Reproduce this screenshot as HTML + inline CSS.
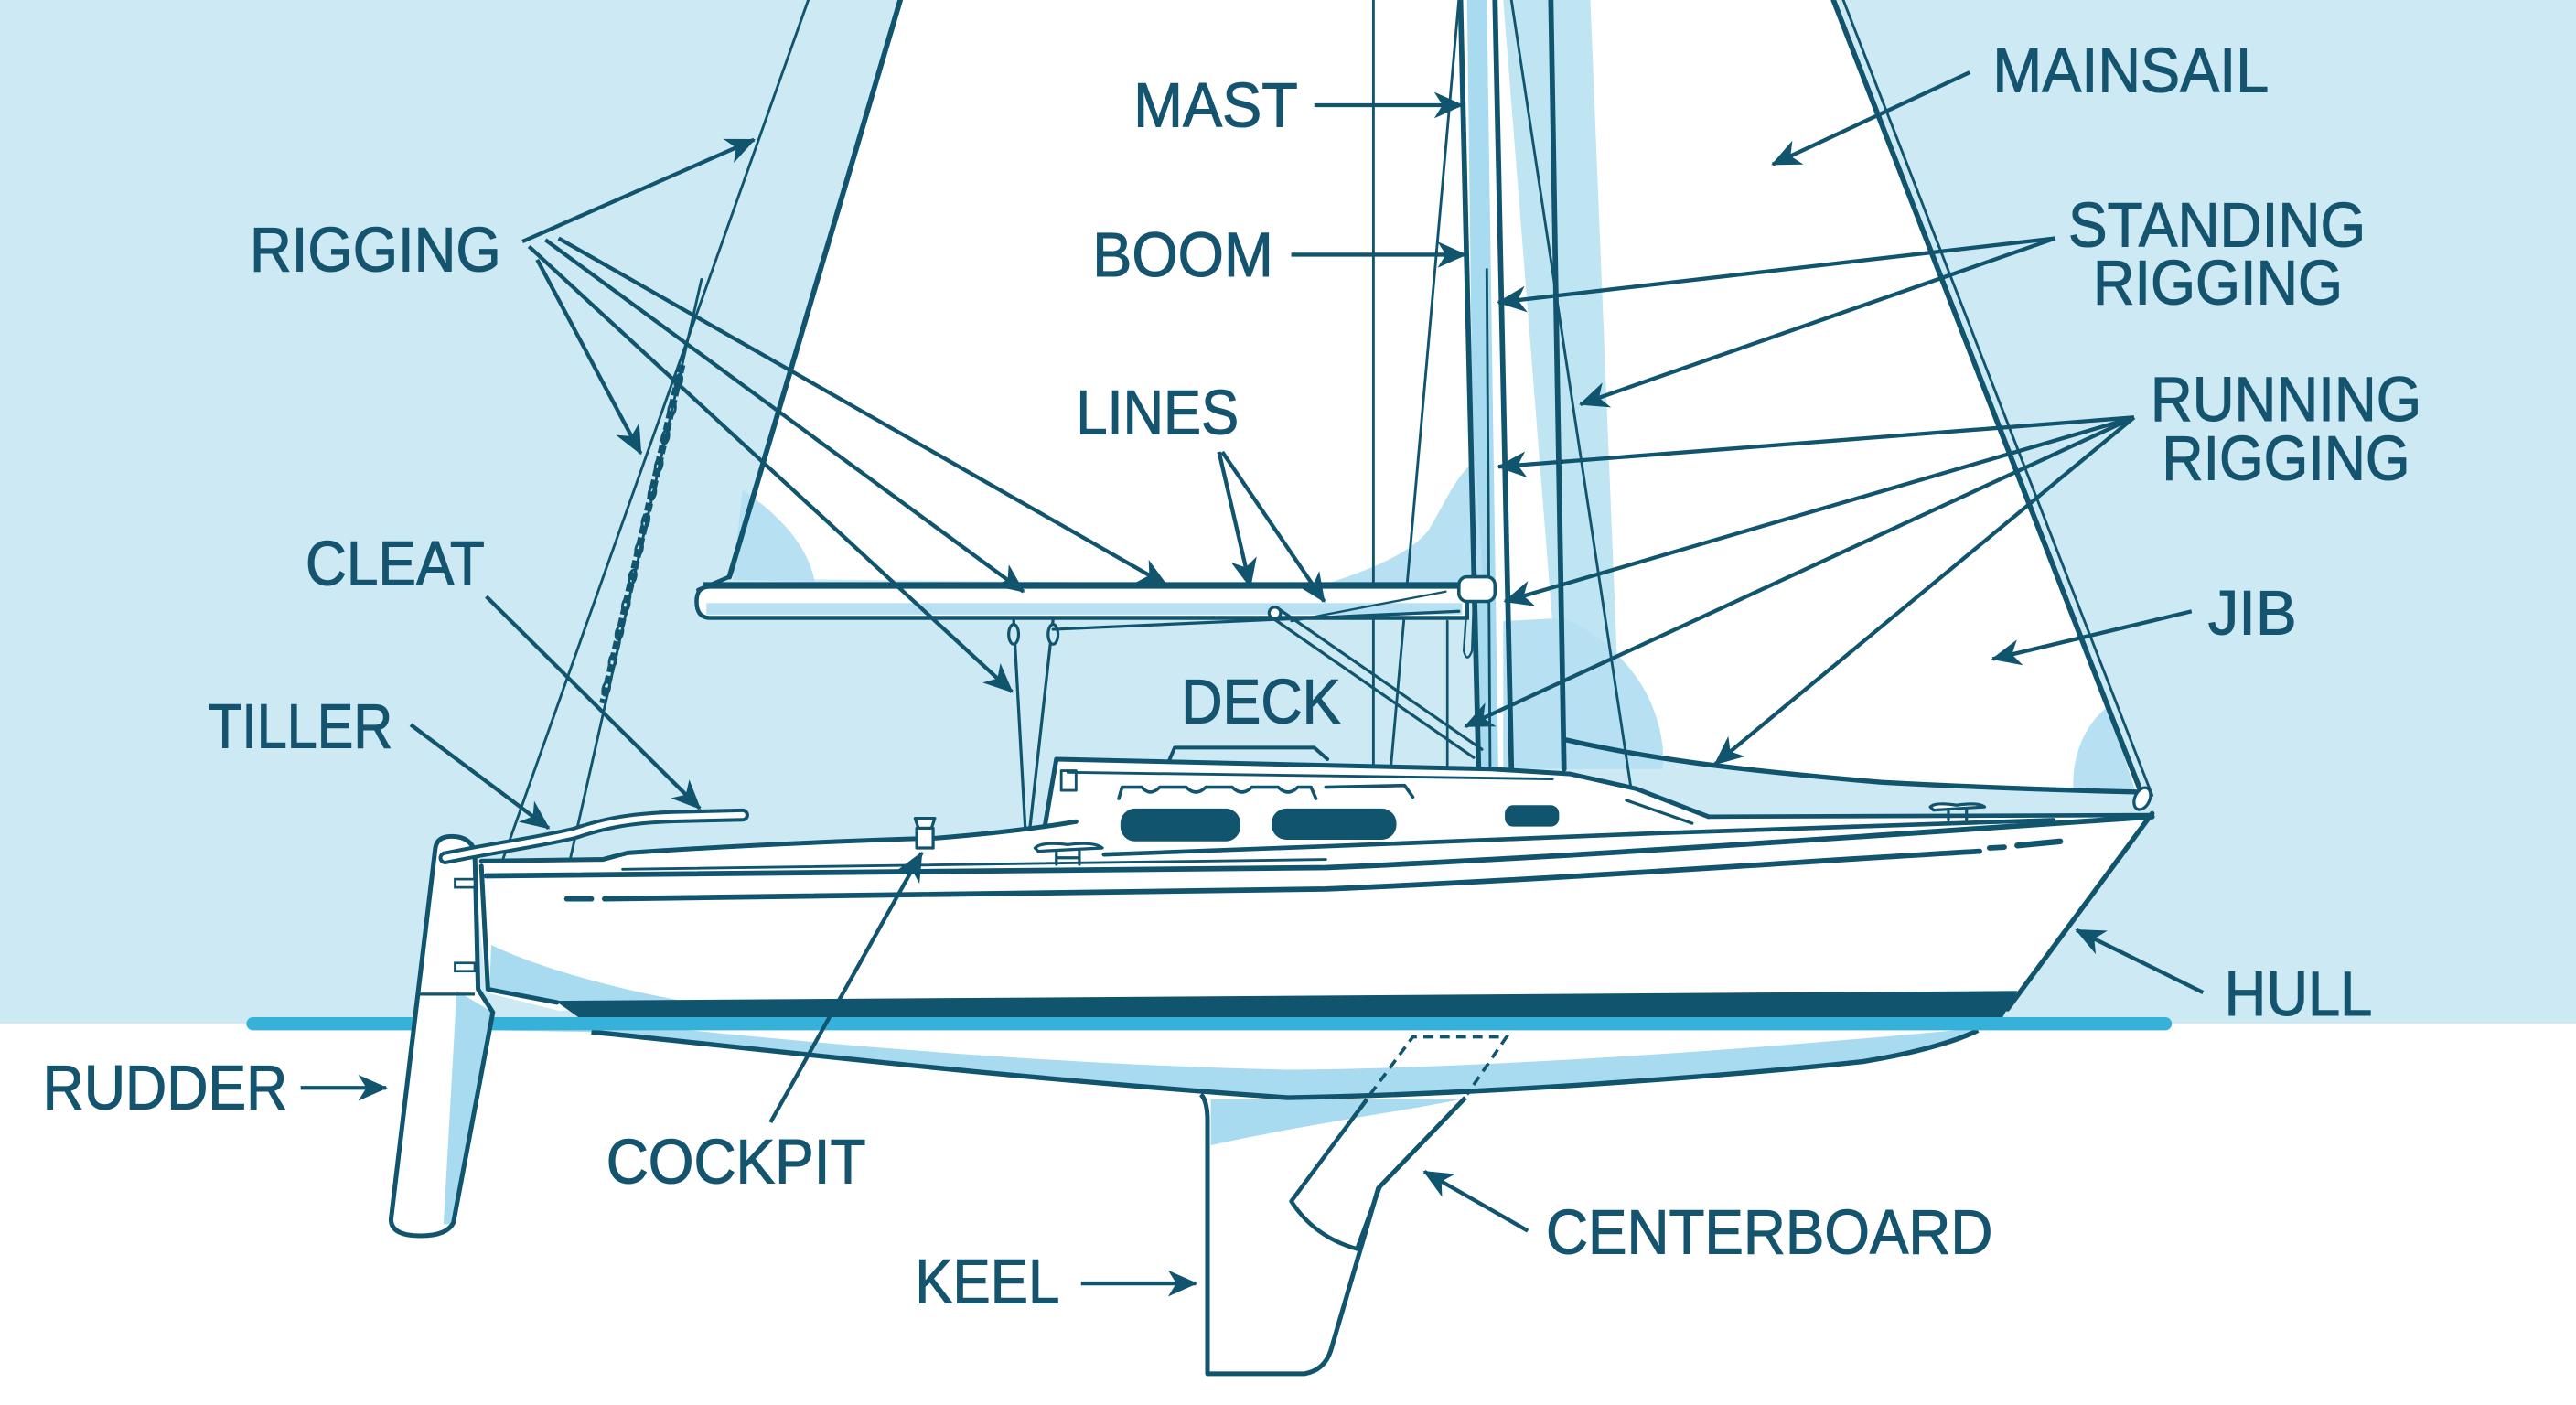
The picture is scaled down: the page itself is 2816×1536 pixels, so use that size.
<!DOCTYPE html>
<html><head><meta charset="utf-8"><style>html,body{margin:0;padding:0;background:#fff}svg{display:block}</style></head>
<body>
<svg xmlns="http://www.w3.org/2000/svg" width="2816" height="1536" viewBox="0 0 1568 855" preserveAspectRatio="none">
<defs>
<marker id="ah" viewBox="0 0 18 16" refX="17" refY="8" markerWidth="18" markerHeight="16" markerUnits="userSpaceOnUse" orient="auto"><path d="M0,0 L18,8 L0,16 L5,8 z" fill="#11546e"/></marker>
</defs>
<rect width="1568" height="855" fill="#ffffff"/>
<rect width="1568" height="623" fill="#cce9f4"/>

<!-- sails white -->
<path d="M548,0 L1118,0 L1304,482 L1145,476 L1050,468 L952,450 L950,468 L905,468 L903,357 L444,352 Z" fill="#ffffff"/>
<!-- light blue accents -->
<path d="M915,0 L968,0 L987,468 L952,468 Z" fill="#bfe4f2"/>
<path d="M893,0 L905,0 L912,468 L899,468 Z" fill="#a8dbef"/>
<path d="M805,356 C830,348 858,338 870,322 C880,305 886,290 898,280 L903,358 Z" fill="#b7e1f2"/>
<path d="M915,378 L952,376 C978,388 1000,410 1008,436 C1012,448 1013,458 1012,468 L915,468 Z" fill="#b7e1f2"/>
<path d="M452,298 C478,316 492,334 496,354 L446,353 Z" fill="#b7e1f2"/>
<path d="M1262,481 C1261,458 1270,440 1283,430 L1300,482 Z" fill="#b7e1f2"/>

<g fill="none" stroke="#11546e" stroke-linecap="round" stroke-linejoin="round">
<line x1="548" y1="0" x2="444" y2="351" stroke-width="3.2"/>
<line x1="444" y1="351" x2="425" y2="359" stroke-width="2.5"/>
<line x1="1116" y1="0" x2="1304" y2="484" stroke-width="3.2"/>
<line x1="1122" y1="0" x2="1310" y2="484" stroke-width="1.6"/>
<line x1="492" y1="0" x2="305" y2="526" stroke-width="1.6"/>
<line x1="427" y1="170" x2="345" y2="532" stroke-width="1.6"/>
<line x1="415" y1="222" x2="367" y2="428" stroke-width="4.5" stroke-dasharray="5,2.2" stroke-linecap="butt"/>
<line x1="836" y1="0" x2="836" y2="519" stroke-width="1.6"/>
<line x1="888" y1="0" x2="842" y2="519" stroke-width="1.6"/>
<line x1="889" y1="0" x2="900" y2="468" stroke-width="3.2"/>
<line x1="905" y1="164" x2="907" y2="466" stroke-width="1.6"/>
<line x1="910" y1="0" x2="920" y2="468" stroke-width="3.2"/>
<line x1="944" y1="0" x2="952" y2="468" stroke-width="3.2"/>
<line x1="920" y1="0" x2="998" y2="514" stroke-width="1.6"/>
<line x1="913" y1="468" x2="913" y2="516" stroke-width="1.6"/>
<line x1="881" y1="378" x2="881" y2="505" stroke-width="1.5"/>
<circle cx="881" cy="509" r="3.5" stroke-width="1.5" fill="#fff"/>
<path d="M952,450 C1000,461 1050,468 1145,476 C1200,479 1260,481 1303,482" stroke-width="3"/>
</g>
<!-- chain links -->
<g fill="none" stroke="#11546e" stroke-width="1.6">
<ellipse cx="413" cy="232" rx="2" ry="4.2" transform="rotate(13 413 232)"/>
<ellipse cx="409" cy="249" rx="2" ry="4.2" transform="rotate(13 409 249)"/>
<ellipse cx="405" cy="266" rx="2" ry="4.2" transform="rotate(13 405 266)"/>
<ellipse cx="401" cy="283" rx="2" ry="4.2" transform="rotate(13 401 283)"/>
<ellipse cx="397" cy="300" rx="2" ry="4.2" transform="rotate(13 397 300)"/>
<ellipse cx="393" cy="317" rx="2" ry="4.2" transform="rotate(13 393 317)"/>
<ellipse cx="389" cy="334" rx="2" ry="4.2" transform="rotate(13 389 334)"/>
<ellipse cx="385" cy="351" rx="2" ry="4.2" transform="rotate(13 385 351)"/>
<ellipse cx="381" cy="368" rx="2" ry="4.2" transform="rotate(13 381 368)"/>
<ellipse cx="377" cy="385" rx="2" ry="4.2" transform="rotate(13 377 385)"/>
<ellipse cx="373" cy="402" rx="2" ry="4.2" transform="rotate(13 373 402)"/>
<ellipse cx="369" cy="419" rx="2" ry="4.2" transform="rotate(13 369 419)"/>
</g>

<!-- boom -->
<path d="M432,357 L893,357 L893,376 L432,376 Q424,376 424,366 Q424,357 432,357 Z" fill="#ffffff" stroke="#11546e" stroke-width="2.5"/>
<rect x="430" y="367" width="460" height="7" fill="#b7e1f2"/>
<line x1="428" y1="356" x2="893" y2="356" stroke="#11546e" stroke-width="3.5"/>
<rect x="888" y="351" width="22" height="15" rx="5" fill="#ffffff" stroke="#11546e" stroke-width="2"/>
<path d="M893,366 L891,396 Q893,404 896,396 L897,366" fill="none" stroke="#11546e" stroke-width="1.3"/>

<g fill="none" stroke="#11546e" stroke-linecap="round" stroke-width="1.8">
<line x1="617" y1="377" x2="624" y2="503"/>
<line x1="641" y1="377" x2="627" y2="503"/>
<ellipse cx="617" cy="386" rx="3" ry="6" fill="#cce9f4"/>
<ellipse cx="641" cy="386" rx="3" ry="6" fill="#cce9f4"/>
<line x1="641" y1="383" x2="888" y2="372"/>
<line x1="786" y1="378" x2="880" y2="360" stroke-width="1.3"/>
<line x1="773" y1="375" x2="897" y2="461"/>
<line x1="779" y1="371" x2="902" y2="456"/>
<circle cx="776" cy="373" r="3.5" fill="#fff"/>
</g>

<!-- hull above water -->
<path d="M288,523 L367,523 L382,519 Q470,513 570,510 Q620,506 643,502 L1040,497 L1310,495 L1222,615 L340,615 L296,604 Z" fill="#ffffff"/>
<path d="M299,575 C330,590 380,603 421,610 L340,610 L298,602 Z" fill="#a8dbef"/>
<path d="M636,503 L643,462 L908,468 L956,471 L996,480 L1040,497 Z" fill="#ffffff"/>
<path d="M338,609 L1228,603 L1219,619 L352,619 Z" fill="#11546e"/>

<!-- underwater hull -->
<path d="M298,627 L360,628 C460,638 600,655 784,668 C900,666 1050,655 1134,646 C1165,641 1190,634 1204,627 Z" fill="#ffffff"/>
<path d="M298,627 L420,627 C520,637 650,648 784,651 C900,650 1050,640 1190,627 L1204,627 C1190,634 1165,641 1134,646 C1050,655 900,666 784,668 C600,655 460,638 360,628 Z" fill="#a8dbef"/>
<path d="M731,666 Q735,670 735,682 L735,836 L794,836 Q806,834 810,822 L839,723 L892,668" fill="#ffffff" stroke="#11546e" stroke-width="2.8" stroke-linejoin="round"/>
<path d="M737,669 L889,669 C850,677 790,685 737,697 Z" fill="#a8dbef"/>
<path d="M832,669 L786,731 C795,745 808,755 826,760 L840,722" fill="none" stroke="#11546e" stroke-width="2.5" stroke-linejoin="round"/>
<path d="M834,666 L860,631 L917,631 L893,666" fill="none" stroke="#11546e" stroke-width="2" stroke-dasharray="6,4"/>
<path d="M360,628 C460,638 600,655 784,668 C900,666 1050,655 1134,646 C1165,641 1190,634 1204,627" fill="none" stroke="#11546e" stroke-width="3"/>

<rect x="150" y="619" width="1172" height="8" rx="4" fill="#36b1da"/>

<!-- rudder -->
<path d="M265,516 Q266,509 275,509 Q286,509 289,518 L291,602 L300,616 L276,744 Q272,752 256,752 Q238,752 238,742 Z" fill="#ffffff"/>
<path d="M278,603 L300,616 L276,745 L270,745 Z" fill="#a8dbef"/>
<path d="M265,516 Q266,509 275,509 Q286,509 289,518 L291,602 L300,616 L276,744 Q272,752 256,752 Q238,752 238,742 Z" fill="none" stroke="#11546e" stroke-width="2.8" stroke-linejoin="round"/>
<line x1="254" y1="605" x2="289" y2="605" stroke="#11546e" stroke-width="1.8"/>
<rect x="277" y="535" width="12" height="5" fill="#fff" stroke="#11546e" stroke-width="1.5"/>
<rect x="277" y="586" width="12" height="5" fill="#fff" stroke="#11546e" stroke-width="1.5"/>

<g fill="none" stroke="#11546e" stroke-linecap="round" stroke-linejoin="round">
<path d="M293,527 L297,602 L339,610" stroke-width="2.8"/>
<path d="M293,524 L367,523 L382,519 Q470,513 570,510 Q620,506 655,500" stroke-width="2.8"/>
<path d="M296,533 L807,528 C950,522 1150,508 1310,497" stroke-width="3.2"/>
<path d="M379,529 L807,523" stroke-width="1.6"/>
<path d="M672,520 L807,515 L1010,507 L1250,499" stroke-width="2.6"/>
<path d="M1040,497 L1310,496" stroke-width="2.6"/>
<path d="M345,547 L360,547" stroke-width="3.2"/>
<path d="M368,547 L807,541 C950,535 1100,524 1205,518" stroke-width="3.2"/>
<path d="M1211,516 L1220,515.5" stroke-width="3.2"/>
<path d="M1228,514.5 L1254,512" stroke-width="3.6"/>
<path d="M1310,495 L1222,614" stroke-width="3"/>
<ellipse cx="1304" cy="486" rx="4.5" ry="7" transform="rotate(25 1304 486)" stroke-width="1.8" fill="#fff"/>
<path d="M636,503 L643,462 L908,468 L956,471 L996,480 L1040,497" stroke-width="2.8"/>
<path d="M990,487 L1030,501" stroke-width="1.8"/>
<path d="M712,462 L715,455 L800,455 L808,462" stroke-width="2.2"/>
<path d="M650,470 L945,474" stroke-width="1.6"/>
<rect x="646" y="469" width="9" height="12" stroke-width="1.6"/>
<path d="M681,486 L683,479 L695,479 Q700,485 706,479 L722,479 Q728,485 734,479 L750,479 Q756,485 762,479 L778,479 Q784,485 790,479 L798,479 L801,486" stroke-width="2"/>
<path d="M807,479 L855,478 L860,485" stroke-width="2"/>
<path d="M271,522 C300,516 330,512 350,507 C365,502 380,498 410,497 L452,496" stroke-width="8"/>
<path d="M271,522 C300,516 330,512 350,507 C365,502 380,498 410,497 L452,496" stroke="#ffffff" stroke-width="3.5"/>
<path d="M557,498 L569,498 L567,504 L559,504 Z" stroke-width="1.8" fill="#fff"/>
<rect x="558" y="504" width="10" height="12" stroke-width="1.8" fill="#fff"/>
<path d="M630,516 Q634,512 650,514 Q666,512 671,516 L632,518 Z M643,518 L643,526 M657,518 L657,526 M643,522 L657,522" stroke-width="1.8" fill="#fff"/>
<path d="M1175,491 Q1178,488 1191,490 Q1204,488 1208,491 L1177,493 Z M1186,493 L1186,499 M1197,493 L1197,499" stroke-width="1.8" fill="#fff"/>
</g>
<rect x="682" y="492" width="73" height="20" rx="9" fill="#11546e"/>
<rect x="774" y="492" width="76" height="19" rx="9" fill="#11546e"/>
<rect x="916" y="490" width="33" height="13" rx="5" fill="#11546e"/>

<g fill="none" stroke="#11546e" stroke-width="2.4" marker-end="url(#ah)">
<path d="M800,64 L890,64"/>
<path d="M786,155 L892,155"/>
<path d="M1199,44 L1079,100"/>
<path d="M1251,145 L912,184"/>
<path d="M1251,145 L962,246"/>
<path d="M1299,254 L912,284"/>
<path d="M1299,254 L916,366"/>
<path d="M1299,254 L892,442"/>
<path d="M1299,254 L1044,465"/>
<path d="M1334,372 L1213,401"/>
<path d="M1341,604 L1264,566"/>
<path d="M930,749 L867,713"/>
<path d="M658,781 L728,781"/>
<path d="M183,662 L235,662"/>
<path d="M469,683 L561,519"/>
<path d="M250,441 L334,504"/>
<path d="M296,363 L426,492"/>
<path d="M318,147 L459,85"/>
<path d="M327,158 L390,276"/>
<path d="M322,150 L616,421"/>
<path d="M332,146 L623,360"/>
<path d="M340,145 L710,356"/>
<path d="M742,275 L761,357"/>
<path d="M744,275 L806,366"/>
</g>

<g font-family="'Liberation Sans', Arial, sans-serif" font-size="38" fill="#14546e" stroke="#14546e" stroke-width="0.6">
<text x="690" y="77" textLength="100" lengthAdjust="spacingAndGlyphs">MAST</text>
<text x="1213" y="56" textLength="168" lengthAdjust="spacingAndGlyphs">MAINSAIL</text>
<text x="152" y="165" textLength="153" lengthAdjust="spacingAndGlyphs">RIGGING</text>
<text x="665" y="168" textLength="110" lengthAdjust="spacingAndGlyphs">BOOM</text>
<text x="1259" y="150" textLength="181" lengthAdjust="spacingAndGlyphs">STANDING</text>
<text x="1274" y="185" textLength="152" lengthAdjust="spacingAndGlyphs">RIGGING</text>
<text x="655" y="264" textLength="99" lengthAdjust="spacingAndGlyphs">LINES</text>
<text x="1309" y="256" textLength="165" lengthAdjust="spacingAndGlyphs">RUNNING</text>
<text x="1316" y="292" textLength="151" lengthAdjust="spacingAndGlyphs">RIGGING</text>
<text x="1344" y="386" textLength="54" lengthAdjust="spacingAndGlyphs">JIB</text>
<text x="186" y="356" textLength="109" lengthAdjust="spacingAndGlyphs">CLEAT</text>
<text x="127" y="455" textLength="112" lengthAdjust="spacingAndGlyphs">TILLER</text>
<text x="719" y="440" textLength="97" lengthAdjust="spacingAndGlyphs">DECK</text>
<text x="1354" y="618" textLength="90" lengthAdjust="spacingAndGlyphs">HULL</text>
<text x="26" y="675" textLength="149" lengthAdjust="spacingAndGlyphs">RUDDER</text>
<text x="369" y="720" textLength="158" lengthAdjust="spacingAndGlyphs">COCKPIT</text>
<text x="557" y="793" textLength="88" lengthAdjust="spacingAndGlyphs">KEEL</text>
<text x="941" y="763" textLength="272" lengthAdjust="spacingAndGlyphs">CENTERBOARD</text>
</g>
</svg>
</body></html>
